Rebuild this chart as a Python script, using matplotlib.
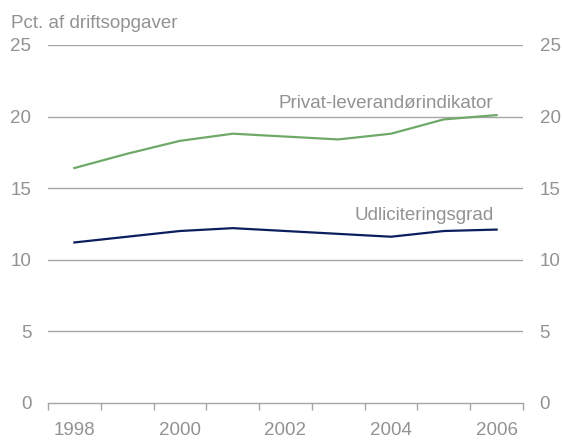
import numpy as np
import matplotlib
matplotlib.use('Agg')
import matplotlib.pyplot as plt

plt.rcParams['font.family'] = ['Liberation Sans', 'DejaVu Sans']

years = [1998, 1999, 2000, 2001, 2002, 2003, 2004, 2005, 2006]
privat = [16.4, 17.4, 18.3, 18.8, 18.6, 18.4, 18.8, 19.8, 20.1]
udlicitering = [11.2, 11.6, 12.0, 12.2, 12.0, 11.8, 11.6, 12.0, 12.1]
yticks = [0, 5, 10, 15, 20, 25]

grey = '#929292'
gridc = '#a6a6a6'
green = '#6fa968'
navy = '#0b1f5e'
fs = 13.5

fig = plt.figure(figsize=(5.62, 4.41), dpi=100)
ax = fig.add_axes([0.0854, 0.0868, 0.8452, 0.8112])

x = np.arange(len(years))
ax.plot(x, privat, color=green, lw=1.6, solid_joinstyle='round')
ax.plot(x, udlicitering, color=navy, lw=1.6, solid_joinstyle='round')

ax.set_xlim(-0.5, len(years) - 0.5)
ax.set_ylim(0, 25)

# horisontale gitterlinjer
for v in yticks[1:]:
    ax.axhline(v, color=gridc, lw=1.0, zorder=0)

ax.set_yticks(yticks)
ax.tick_params(axis='y', length=0, labelsize=fs, labelcolor=grey, pad=12,
               labelleft=True, labelright=True)

ax.set_xticks(x[::2])
ax.set_xticklabels([str(y) for y in years[::2]])
ax.set_xticks(np.arange(-0.5, len(years), 1.0), minor=True)
ax.tick_params(axis='x', which='major', length=0, labelsize=fs,
               labelcolor=grey, pad=14)
ax.tick_params(axis='x', which='minor', length=5, width=1.0, color=gridc)

for s in ['top', 'left', 'right']:
    ax.spines[s].set_visible(False)
ax.spines['bottom'].set_color(gridc)
ax.spines['bottom'].set_linewidth(1.0)

ax.text(7.94, 20.9, 'Privat-leverandørindikator', color=grey, fontsize=fs,
        ha='right', va='center')
ax.text(7.95, 13.1, 'Udliciteringsgrad', color=grey, fontsize=fs,
        ha='right', va='center')

fig.text(11 / 562, 1 - 23 / 441, 'Pct. af driftsopgaver', color=grey,
         fontsize=fs, ha='left', va='center')

fig.savefig('out.png', dpi=100)
